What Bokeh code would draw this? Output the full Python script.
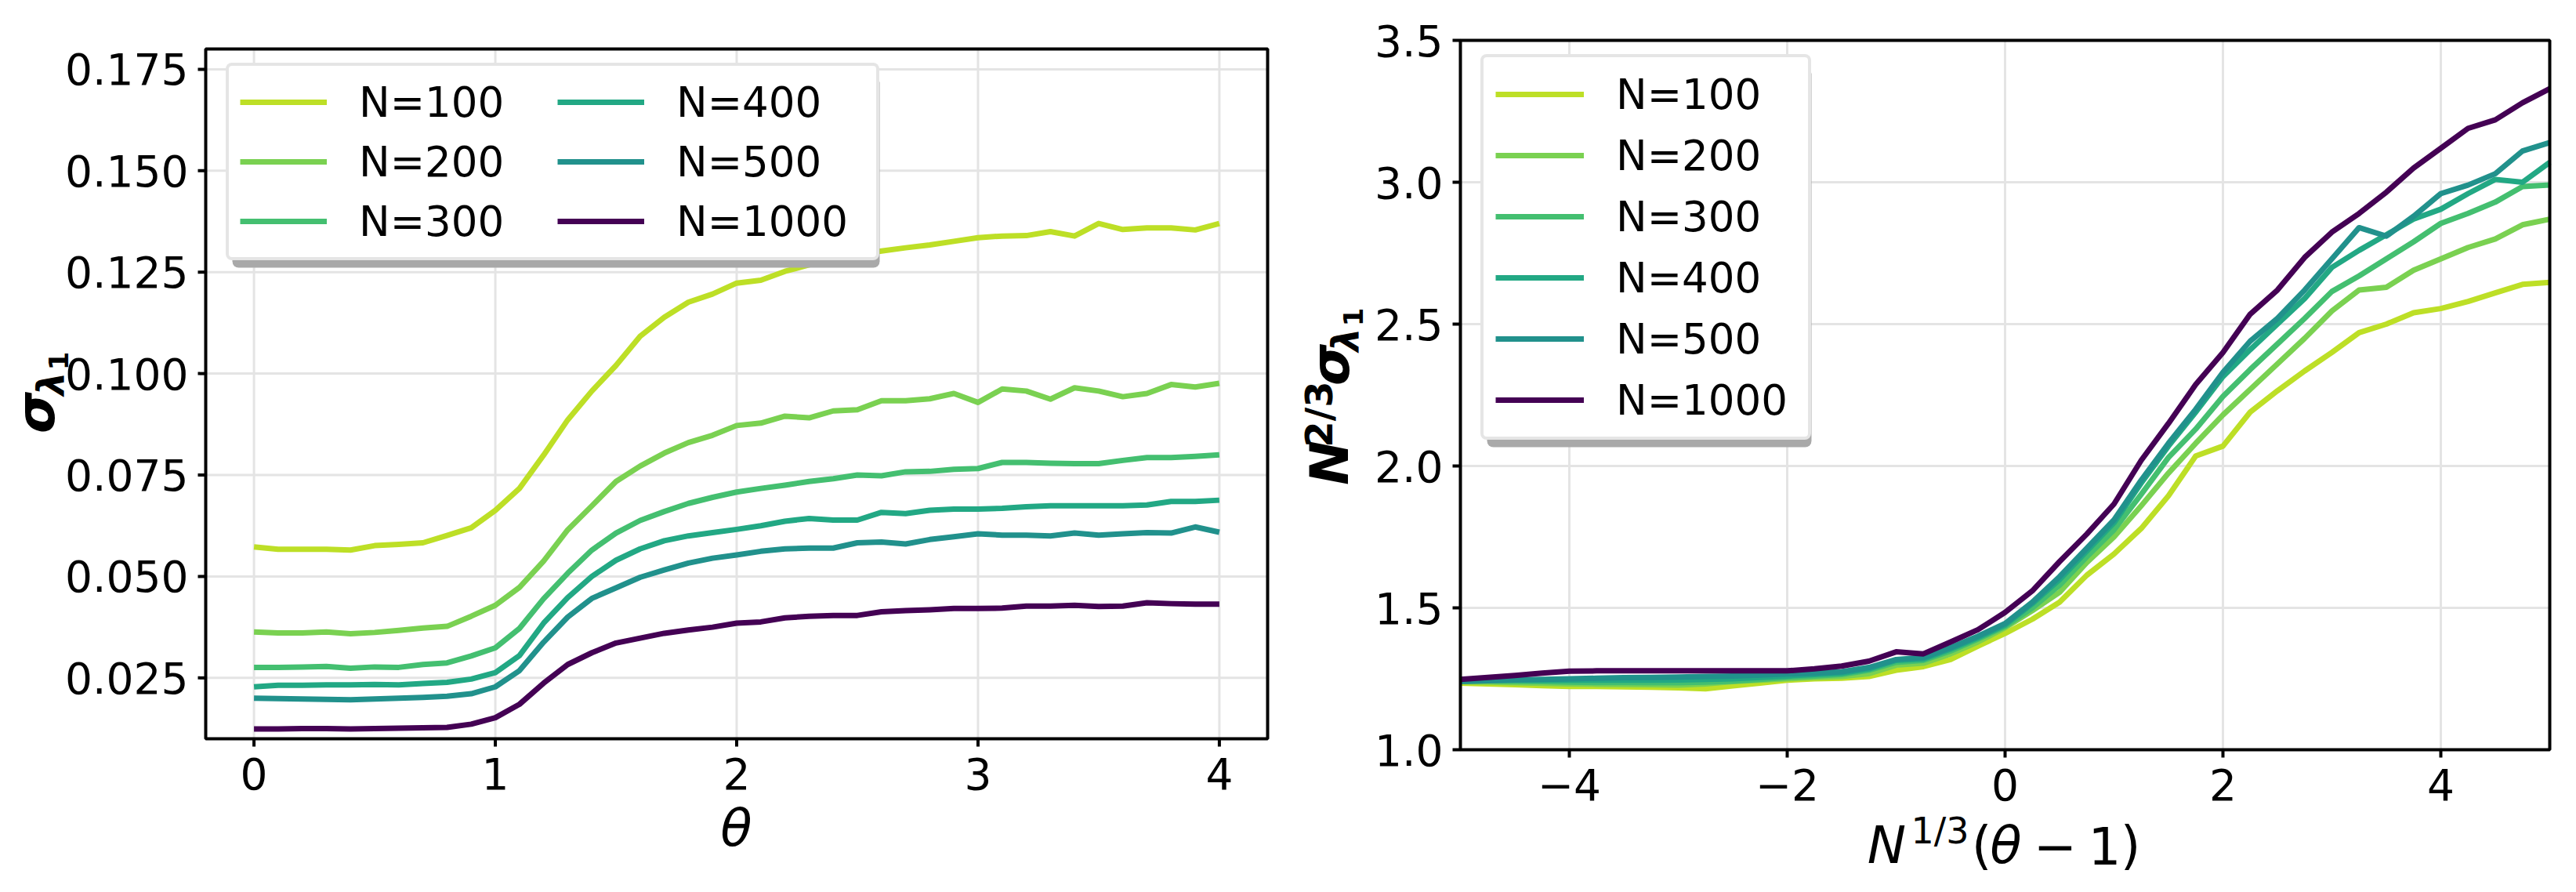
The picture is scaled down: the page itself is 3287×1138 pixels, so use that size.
import math
from bokeh.plotting import figure
from bokeh.layouts import row
from bokeh.models import Range1d, Legend, LegendItem, Label, BoxAnnotation
from bokeh.core.properties import value
from bokeh.embed import file_html
from bokeh.resources import INLINE

FONT = "DejaVu Sans"

# ---------------- data ----------------
series_labels = ["N=100", "N=200", "N=300", "N=400", "N=500", "N=1000"]
series_colors = ["#bddf26", "#7ad151", "#44bf70", "#22a884", "#21918c", "#440154"]

theta = [0.0, 0.1, 0.2, 0.3, 0.4, 0.5, 0.6, 0.7, 0.8, 0.9,
         1.0, 1.1, 1.2, 1.3, 1.4, 1.5, 1.6, 1.7, 1.8, 1.9,
         2.0, 2.1, 2.2, 2.3, 2.4, 2.5, 2.6, 2.7, 2.8, 2.9,
         3.0, 3.1, 3.2, 3.3, 3.4, 3.5, 3.6, 3.7, 3.8, 3.9, 4.0]

sigma_100 = [0.0573, 0.0567, 0.0567, 0.0567, 0.0565, 0.0576, 0.0579, 0.0583, 0.0601, 0.0620,
             0.0663, 0.0717, 0.0799, 0.0886, 0.0957, 0.1020, 0.1092, 0.1139, 0.1176, 0.1196,
             0.1223, 0.1230, 0.1252, 0.1268, 0.1283, 0.1293, 0.1302, 0.1310, 0.1317, 0.1326,
             0.1335, 0.1339, 0.1340, 0.1350, 0.1339, 0.1370, 0.1355, 0.1359, 0.1359, 0.1354, 0.1370]
sigma_200 = [0.0363, 0.0361, 0.0361, 0.0363, 0.0359, 0.0362, 0.0367, 0.0373, 0.0377, 0.0402,
             0.0429, 0.0473, 0.0538, 0.0615, 0.0674, 0.0734, 0.0772, 0.0804, 0.0830, 0.0848,
             0.0872, 0.0878, 0.0895, 0.0891, 0.0908, 0.0911, 0.0933, 0.0933, 0.0938, 0.0951,
             0.0929, 0.0962, 0.0957, 0.0937, 0.0965, 0.0957, 0.0943, 0.0951, 0.0973, 0.0967, 0.0976]
sigma_300 = [0.0276, 0.0276, 0.0277, 0.0278, 0.0274, 0.0277, 0.0276, 0.0283, 0.0287, 0.0304,
             0.0324, 0.0372, 0.0445, 0.0508, 0.0565, 0.0607, 0.0638, 0.0660, 0.0680, 0.0695,
             0.0708, 0.0717, 0.0725, 0.0734, 0.0741, 0.0750, 0.0748, 0.0758, 0.0759, 0.0764,
             0.0766, 0.0781, 0.0781, 0.0779, 0.0778, 0.0778, 0.0786, 0.0793, 0.0793, 0.0796, 0.0800]
sigma_400 = [0.0228, 0.0232, 0.0232, 0.0233, 0.0233, 0.0234, 0.0233, 0.0236, 0.0239, 0.0247,
             0.0263, 0.0305, 0.0385, 0.0448, 0.0500, 0.0540, 0.0568, 0.0588, 0.0600, 0.0608,
             0.0616, 0.0625, 0.0636, 0.0643, 0.0639, 0.0639, 0.0658, 0.0655, 0.0663, 0.0666,
             0.0666, 0.0668, 0.0672, 0.0674, 0.0674, 0.0674, 0.0674, 0.0676, 0.0685, 0.0685, 0.0688]
sigma_500 = [0.0200, 0.0199, 0.0198, 0.0197, 0.0196, 0.0198, 0.0200, 0.0202, 0.0205, 0.0211,
             0.0228, 0.0268, 0.0338, 0.0400, 0.0446, 0.0472, 0.0498, 0.0516, 0.0533, 0.0545,
             0.0553, 0.0562, 0.0568, 0.0570, 0.0570, 0.0583, 0.0585, 0.0580, 0.0591, 0.0598,
             0.0605, 0.0602, 0.0602, 0.0600, 0.0607, 0.0602, 0.0605, 0.0608, 0.0607, 0.0622, 0.0609]
sigma_1000 = [0.0124, 0.0124, 0.0125, 0.0125, 0.0124, 0.0125, 0.0126, 0.0127, 0.0128, 0.0136,
              0.0152, 0.0185, 0.0237, 0.0283, 0.0312, 0.0336, 0.0348, 0.0360, 0.0368, 0.0375,
              0.0385, 0.0388, 0.0398, 0.0402, 0.0404, 0.0404, 0.0413, 0.0416, 0.0418, 0.0421,
              0.0421, 0.0422, 0.0427, 0.0427, 0.0429, 0.0426, 0.0427, 0.0435, 0.0433, 0.0432, 0.0432]

scaled_x = [-5.0, -4.75, -4.5, -4.25, -4.0, -3.75, -3.5, -3.25, -3.0, -2.75,
            -2.5, -2.25, -2.0, -1.75, -1.5, -1.25, -1.0, -0.75, -0.5, -0.25,
            0.0, 0.25, 0.5, 0.75, 1.0, 1.25, 1.5, 1.75, 2.0, 2.25,
            2.5, 2.75, 3.0, 3.25, 3.5, 3.75, 4.0, 4.25, 4.5, 4.75, 5.0]

scaled_100 = [1.235, 1.232, 1.229, 1.226, 1.223, 1.223, 1.222, 1.220, 1.218, 1.215,
              1.225, 1.235, 1.245, 1.250, 1.252, 1.258, 1.280, 1.293, 1.318, 1.365,
              1.410, 1.460, 1.520, 1.615, 1.690, 1.780, 1.895, 2.035, 2.070, 2.190,
              2.265, 2.335, 2.400, 2.470, 2.500, 2.540, 2.555, 2.580, 2.610, 2.640, 2.647]
scaled_200 = [1.240, 1.238, 1.236, 1.234, 1.232, 1.231, 1.230, 1.229, 1.228, 1.232,
              1.240, 1.245, 1.250, 1.255, 1.258, 1.268, 1.298, 1.305, 1.338, 1.380,
              1.430, 1.490, 1.555, 1.660, 1.750, 1.860, 1.975, 2.080, 2.180, 2.270,
              2.360, 2.450, 2.546, 2.620, 2.630, 2.690, 2.730, 2.770, 2.800, 2.850, 2.870]
scaled_300 = [1.245, 1.243, 1.241, 1.240, 1.238, 1.237, 1.237, 1.236, 1.236, 1.238,
              1.242, 1.248, 1.255, 1.260, 1.265, 1.280, 1.308, 1.315, 1.348, 1.390,
              1.435, 1.500, 1.580, 1.680, 1.775, 1.900, 2.030, 2.130, 2.245, 2.340,
              2.430, 2.520, 2.615, 2.670, 2.730, 2.790, 2.855, 2.890, 2.930, 2.985, 2.990]
scaled_400 = [1.248, 1.247, 1.246, 1.245, 1.245, 1.245, 1.245, 1.245, 1.246, 1.248,
              1.250, 1.255, 1.260, 1.265, 1.270, 1.285, 1.315, 1.320, 1.355, 1.395,
              1.440, 1.515, 1.600, 1.700, 1.800, 1.940, 2.070, 2.190, 2.315, 2.410,
              2.500, 2.590, 2.700, 2.760, 2.815, 2.870, 2.905, 2.960, 3.010, 3.000, 3.070]
scaled_500 = [1.240, 1.243, 1.246, 1.248, 1.250, 1.252, 1.254, 1.255, 1.256, 1.258,
              1.260, 1.263, 1.267, 1.270, 1.275, 1.290, 1.318, 1.325, 1.360, 1.400,
              1.445, 1.520, 1.610, 1.710, 1.810, 1.950, 2.080, 2.200, 2.330, 2.440,
              2.520, 2.620, 2.730, 2.840, 2.810, 2.880, 2.960, 2.990, 3.030, 3.110, 3.140]
scaled_1000 = [1.248, 1.255, 1.262, 1.270, 1.277, 1.278, 1.278, 1.278, 1.278, 1.278,
               1.278, 1.278, 1.278, 1.285, 1.295, 1.312, 1.345, 1.338, 1.380, 1.423,
               1.484, 1.560, 1.663, 1.760, 1.866, 2.020, 2.150, 2.287, 2.400, 2.535,
               2.620, 2.735, 2.824, 2.890, 2.965, 3.050, 3.120, 3.190, 3.220, 3.280, 3.330]

left_series = [sigma_100, sigma_200, sigma_300, sigma_400, sigma_500, sigma_1000]
right_series = [scaled_100, scaled_200, scaled_300, scaled_400, scaled_500, scaled_1000]

left_xticks = [0, 1, 2, 3, 4]
left_xtick_labels = ["0", "1", "2", "3", "4"]
left_yticks = [0.025, 0.05, 0.075, 0.1, 0.125, 0.15, 0.175]
left_ytick_labels = ["0.025", "0.050", "0.075", "0.100", "0.125", "0.150", "0.175"]
right_xticks = [-4, -2, 0, 2, 4]
right_xtick_labels = ["\u22124", "\u22122", "0", "2", "4"]
right_yticks = [1.0, 1.5, 2.0, 2.5, 3.0, 3.5]
right_ytick_labels = ["1.0", "1.5", "2.0", "2.5", "3.0", "3.5"]

H = 1138
TICK_FONT = "55px"
LEGEND_FONT = "53px"
LINE_W = 7


class Panel:
    """Maps page pixels to data for a figure whose frame spans the whole canvas."""

    def __init__(self, page_x0, width, box, xr, yr):
        self.page_x0 = page_x0
        self.W = width
        L, R, T, B = box
        self.L, self.R, self.T, self.B = L - page_x0, R - page_x0, T, B
        self.x0, self.x1 = xr
        self.y0, self.y1 = yr
        self.kx = (self.x1 - self.x0) / (self.R - self.L)
        self.ky = (self.y1 - self.y0) / (self.B - self.T)

    def full_x(self):
        return (self.x0 - self.L * self.kx, self.x1 + (self.W - self.R) * self.kx)

    def full_y(self):
        return (self.y0 - (H - self.B) * self.ky, self.y1 + self.T * self.ky)

    def at(self, px, py):
        lx = px - self.page_x0
        return (self.x0 + (lx - self.L) * self.kx, self.y0 + (self.B - py) * self.ky)


def build(pn, xt, xl, yt, yl, series_x, series_y):
    p = figure(width=pn.W, height=H, x_range=Range1d(*pn.full_x()), y_range=Range1d(*pn.full_y()),
               output_backend="svg", toolbar_location=None, min_border=0,
               x_axis_location=None, y_axis_location=None, title=None)
    p.outline_line_color = None
    p.background_fill_color = "white"
    p.border_fill_color = "white"
    p.grid.grid_line_color = None

    # grid lines across the plotting box
    p.segment(x0=xt, y0=[pn.y0] * len(xt), x1=xt, y1=[pn.y1] * len(xt),
              line_color="#e4e4e4", line_width=3)
    p.segment(x0=[pn.x0] * len(yt), y0=yt, x1=[pn.x1] * len(yt), y1=yt,
              line_color="#e4e4e4", line_width=3)

    renderers = []
    for col, ys in zip(series_colors, series_y):
        r = p.line(series_x, ys, line_color=col, line_width=LINE_W, line_join="round")
        renderers.append(r)

    # box outline
    p.quad(left=[pn.x0], right=[pn.x1], bottom=[pn.y0], top=[pn.y1],
           fill_color=None, line_color="black", line_width=4)

    # ticks (10 px outward)
    tl_y = 10 * pn.ky
    tl_x = 10 * pn.kx
    p.segment(x0=xt, y0=[pn.y0] * len(xt), x1=xt, y1=[pn.y0 - tl_y] * len(xt),
              line_color="black", line_width=4)
    p.segment(x0=[pn.x0] * len(yt), y0=yt, x1=[pn.x0 - tl_x] * len(yt), y1=yt,
              line_color="black", line_width=4)

    # tick labels (centred on their anchor)
    p.text(x=xt, y=[pn.y0 - 44 * pn.ky] * len(xt), text=xl,
           text_font=value(FONT), text_font_size=value(TICK_FONT), text_color="black",
           text_align="center", text_baseline="middle")
    p.text(x=[pn.x0 - 22 * pn.kx] * len(yt), y=yt, text=yl,
           text_font=value(FONT), text_font_size=value(TICK_FONT), text_color="black",
           text_align="right", text_baseline="middle")
    return p, renderers


def add_text(p, pn, cx, cy, text, size, style="normal", angle=0.0):
    """Text part centred at page pixel (cx, cy)."""
    x, y = pn.at(cx, cy)
    p.add_layout(Label(x=x, y=y, text=text, text_font=FONT, text_font_size=f"{size}px",
                       text_font_style=style, angle=angle, text_align="center",
                       text_baseline="middle", text_color="black"))


def add_legend(p, pn, renderers, ncols, box_px, padding, spacing, glyph_w, label_w, item_h):
    l, t, r, b = box_px
    sx0, sy0 = pn.at(l + 8, b + 9)
    sx1, sy1 = pn.at(r + 8, t + 9)
    sh = BoxAnnotation(left=sx0, right=sx1, bottom=sy0, top=sy1, fill_color="#a9a9a9",
                       fill_alpha=1.0, line_color=None)
    try:
        sh.border_radius = 8
    except Exception:
        pass
    p.add_layout(sh)

    items = [LegendItem(label=lab, renderers=[rr]) for lab, rr in zip(series_labels, renderers)]
    leg = Legend(items=items, ncols=ncols)
    leg.location = (l - pn.page_x0, H - b)
    leg.margin = 0
    leg.padding = padding
    leg.spacing = spacing
    leg.glyph_width = glyph_w
    leg.glyph_height = item_h
    leg.label_height = item_h
    leg.label_width = label_w
    leg.label_standoff = 41
    leg.label_text_font = FONT
    leg.label_text_font_size = LEGEND_FONT
    leg.label_text_color = "black"
    leg.border_line_color = "#cccccc"
    leg.border_line_width = 4
    leg.background_fill_color = "white"
    leg.background_fill_alpha = 1.0
    try:
        leg.border_radius = 8
    except Exception:
        pass
    p.add_layout(leg)


UP = math.pi / 2

# ---------------- left panel ----------------
PL = Panel(0, 1650, (262, 1617, 62, 942), (-0.2, 4.2), (0.01, 0.18))
p1, r1 = build(PL, left_xticks, left_xtick_labels, left_yticks, left_ytick_labels, theta, left_series)
add_legend(p1, PL, r1, 2, (288, 88, 288 + 826, 88 + 244), 14, 12, 111, 241, 64)

# x label: θ
add_text(p1, PL, 939, 1056, "\u03b8", 66, "italic")
# y label: σ_{λ1}
add_text(p1, PL, 45, 526, "\u03c3", 68, "bold italic", UP)
add_text(p1, PL, 64, 489, "\u03bb", 48, "bold italic", UP)
add_text(p1, PL, 74, 460, "1", 34, "bold", UP)

# ---------------- right panel ----------------
PR = Panel(1650, 1637, (1863, 3253, 51, 956), (-5.0, 5.0), (1.0, 3.5))
p2, r2 = build(PR, right_xticks, right_xtick_labels, right_yticks, right_ytick_labels, scaled_x, right_series)
add_legend(p2, PR, r2, 1, (1889, 77, 1889 + 414, 77 + 484), 15, 14, 113, 230, 64)

# x label: N^{1/3}(θ − 1)
add_text(p2, PR, 2407, 1078, "N", 66, "italic")
add_text(p2, PR, 2475, 1059, "1/3", 46)
add_text(p2, PR, 2528, 1078, "(", 66)
add_text(p2, PR, 2559, 1078, "\u03b8", 66, "italic")
add_text(p2, PR, 2622, 1078, "\u2212", 66)
add_text(p2, PR, 2685, 1078, "1", 66)
add_text(p2, PR, 2718, 1078, ")", 66)

# y label: N^{2/3} σ_{λ1}
add_text(p2, PR, 1696, 590, "N", 68, "bold italic", UP)
add_text(p2, PR, 1682, 528, "2/3", 48, "bold", UP)
add_text(p2, PR, 1697, 465, "\u03c3", 68, "bold italic", UP)
add_text(p2, PR, 1716, 433, "\u03bb", 48, "bold italic", UP)
add_text(p2, PR, 1726, 404, "1", 34, "bold", UP)

layout = row(p1, p2)
open("out.html", "w").write(file_html(layout, INLINE))
